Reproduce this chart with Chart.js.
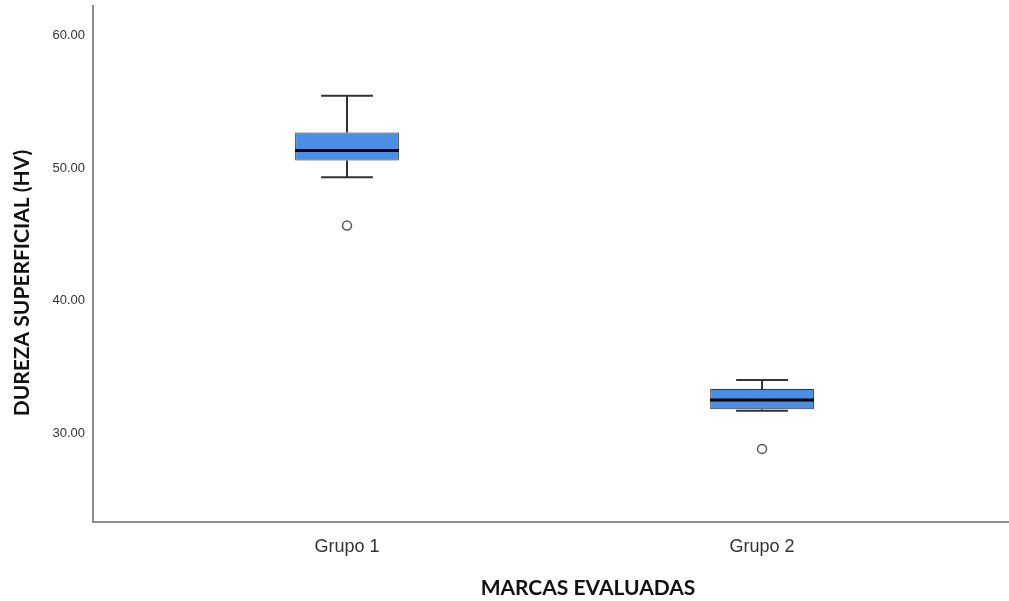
<!DOCTYPE html>
<html lang="es">
<head>
    <meta charset="UTF-8">
    <title>Dureza superficial por marca</title>
    <script src="https://cdn.jsdelivr.net/npm/chart.js"></script>
    <style>
        body { margin: 0; background: #fff; }
        .chart-container { width: 1009px; height: 601px; position: relative; }
    </style>
</head>
<body>
    <div class="chart-container">
        <canvas id="durezaChart"></canvas>
    </div>
    <script>
        // Dades llegides del gràfic
        const categories = ['Grupo 1', 'Grupo 2'];
        const whiskerLow = [49.31, 31.72];
        const q1 = [50.57, 31.83];
        const median = [51.32, 32.53];
        const q3 = [52.68, 33.36];
        const whiskerHigh = [55.46, 34.04];
        const outliers = [45.67, 28.84];
        const yTicks = [30, 40, 50, 60];

        const boxData = categories.map((c, i) => ({ x: i + 1, y: [q1[i], q3[i]] }));
        const outlierData = categories.map((c, i) => ({ x: i + 1, y: outliers[i] }));

        // Bigotis, mitjana i títols dels eixos
        const boxPlugin = {
            id: 'boxPlugin',
            afterDatasetsDraw(chart) {
                const ctx = chart.ctx;
                const xs = chart.scales.x;
                const ys = chart.scales.y;
                const bars = chart.getDatasetMeta(0).data;

                ctx.save();
                categories.forEach((c, i) => {
                    const cx = xs.getPixelForValue(i + 1);
                    const half = bars[i].width / 2;
                    const cap = half / 2;

                    ctx.strokeStyle = '#333';
                    ctx.lineWidth = 2;
                    ctx.beginPath();
                    ctx.moveTo(cx, ys.getPixelForValue(q3[i]));
                    ctx.lineTo(cx, ys.getPixelForValue(whiskerHigh[i]));
                    ctx.moveTo(cx - cap, ys.getPixelForValue(whiskerHigh[i]));
                    ctx.lineTo(cx + cap, ys.getPixelForValue(whiskerHigh[i]));
                    ctx.moveTo(cx, ys.getPixelForValue(q1[i]));
                    ctx.lineTo(cx, ys.getPixelForValue(whiskerLow[i]));
                    ctx.moveTo(cx - cap, ys.getPixelForValue(whiskerLow[i]));
                    ctx.lineTo(cx + cap, ys.getPixelForValue(whiskerLow[i]));
                    ctx.stroke();

                    ctx.strokeStyle = '#000';
                    ctx.lineWidth = 3;
                    ctx.beginPath();
                    ctx.moveTo(cx - half, ys.getPixelForValue(median[i]));
                    ctx.lineTo(cx + half, ys.getPixelForValue(median[i]));
                    ctx.stroke();
                });

                ctx.fillStyle = '#111';
                ctx.font = 'bold 21px Lato';
                ctx.textAlign = 'center';
                ctx.textBaseline = 'middle';
                ctx.fillText('MARCAS EVALUADAS', 588, 588);
                ctx.translate(22, 283);
                ctx.rotate(-Math.PI / 2);
                ctx.fillText('DUREZA SUPERFICIAL (HV)', 0, 0);
                ctx.restore();
            }
        };

        const ctx = document.getElementById('durezaChart').getContext('2d');
        new Chart(ctx, {
            type: 'bar',
            data: {
                datasets: [{
                    label: 'Caja',
                    data: boxData,
                    backgroundColor: '#4a8fe5',
                    borderColor: '#333',
                    borderWidth: 1,
                    borderSkipped: false,
                    barPercentage: 0.25,
                    categoryPercentage: 1
                }, {
                    type: 'scatter',
                    label: 'Atípicos',
                    data: outlierData,
                    pointRadius: 4.5,
                    pointBackgroundColor: '#fff',
                    pointBorderColor: '#555',
                    pointBorderWidth: 1.5
                }]
            },
            options: {
                responsive: true,
                maintainAspectRatio: false,
                animation: false,
                layout: {
                    autoPadding: false,
                    padding: { top: 6, left: 0, right: 0, bottom: 0 }
                },
                plugins: {
                    legend: { display: false },
                    tooltip: { enabled: false }
                },
                scales: {
                    x: {
                        type: 'linear',
                        min: 0.388,
                        max: 2.595,
                        offset: false,
                        grid: { display: false, drawTicks: false },
                        border: { color: '#8c8c8c', width: 2 },
                        afterBuildTicks: scale => { scale.ticks = categories.map((c, i) => ({ value: i + 1 })); },
                        afterFit: scale => {
                            scale.height = 79;
                            scale.paddingLeft = 0;
                            scale.paddingRight = 0;
                        },
                        ticks: {
                            padding: 14,
                            color: '#333',
                            font: { family: 'Liberation Sans', size: 18 },
                            callback: v => categories[v - 1]
                        }
                    },
                    y: {
                        min: 23.33,
                        max: 62.22,
                        grid: { display: false, drawTicks: false },
                        border: { color: '#8c8c8c', width: 2 },
                        afterBuildTicks: scale => { scale.ticks = yTicks.map(v => ({ value: v })); },
                        afterFit: scale => {
                            scale.width = 93;
                            scale.paddingTop = 0;
                            scale.paddingBottom = 0;
                        },
                        ticks: {
                            padding: 8,
                            color: '#333',
                            font: { family: 'Liberation Sans', size: 13 },
                            callback: v => v.toFixed(2)
                        }
                    }
                }
            },
            plugins: [boxPlugin]
        });
    </script>
</body>
</html>
